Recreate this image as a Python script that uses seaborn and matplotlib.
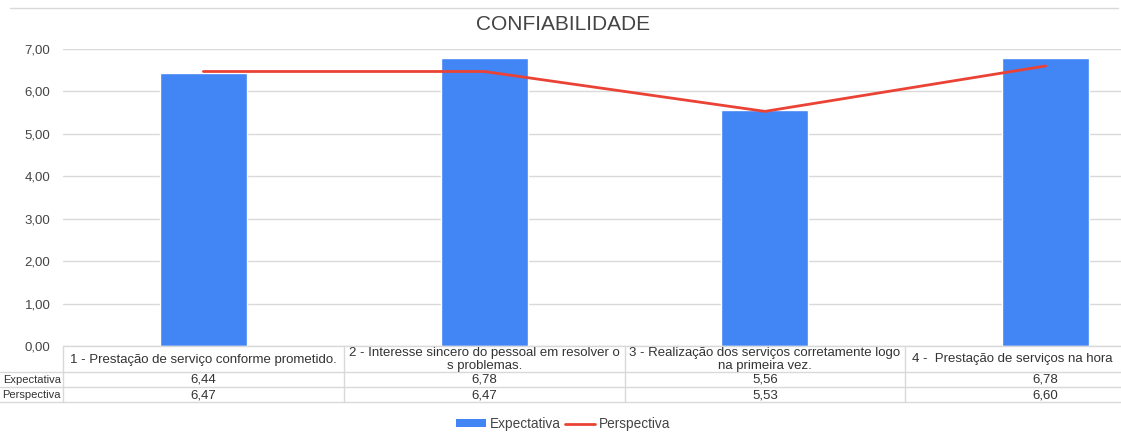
import matplotlib
matplotlib.use("Agg")
import matplotlib.pyplot as plt
import seaborn as sns
import numpy as np
import pandas as pd
from matplotlib.patches import Patch
from matplotlib.lines import Line2D
from matplotlib.ticker import FuncFormatter

categories = [
    "1 - Prestação de serviço conforme prometido.",
    "2 - Interesse sincero do pessoal em resolver o\ns problemas.",
    "3 - Realização dos serviços corretamente logo\nna primeira vez.",
    "4 -  Prestação de serviços na hora",
]
expectativa = [6.44, 6.78, 5.56, 6.78]
perspectiva = [6.47, 6.47, 5.53, 6.60]
series_names = ["Expectativa", "Perspectiva"]

BLUE = "#4285F4"
RED = "#EA4335"
GRID = "#D9D9D9"
TXT = "#444444"

sns.set_theme(style="white")
plt.rcParams["font.family"] = ["Liberation Sans", "DejaVu Sans"]

W, H = 1121, 437
fig = plt.figure(figsize=(W / 100, H / 100), dpi=100)
left_px, right_px, top_px, bot_px = 63, 1186, 49, 346
ax = fig.add_axes([left_px / W, 1 - bot_px / H, (right_px - left_px) / W, (bot_px - top_px) / H])

df = pd.DataFrame({"pos": np.arange(len(categories)), "exp": expectativa, "per": perspectiva})
sns.barplot(data=df, x="pos", y="exp", color=BLUE, width=0.31, saturation=1, ax=ax, zorder=2)
sns.lineplot(x=np.arange(len(categories)), y=perspectiva, color=RED, linewidth=2, ax=ax, zorder=3)

ax.set_xlim(-0.5, len(categories) - 0.5)
ax.set_ylim(0, 7)
ax.set_yticks(np.arange(0, 8, 1))
ax.yaxis.set_major_formatter(FuncFormatter(lambda v, p: f"{v:.2f}".replace(".", ",")))
ax.tick_params(axis="y", length=0, pad=9, labelsize=9.5, labelcolor=TXT)
ax.set_xticks([])
ax.set_xlabel("")
ax.set_ylabel("")
ax.grid(axis="y", color=GRID, linewidth=1, zorder=0)
for s in ax.spines.values():
    s.set_visible(False)

def fy(py):
    return (bot_px - py) / (bot_px - top_px)

trans = ax.get_xaxis_transform()
ax.plot([-0.5, 3.5], [fy(346)] * 2, transform=trans, color=GRID, lw=1, clip_on=False)
for py in (372, 387, 402):
    ax.plot([-0.5 - 63 / 281, 3.5], [fy(py)] * 2, transform=trans, color=GRID, lw=1, clip_on=False)
for xv in [-0.5, 0.5, 1.5, 2.5, 3.5]:
    ax.plot([xv, xv], [fy(346), fy(402)], transform=trans, color=GRID, lw=1, clip_on=False)

TFS = 9.5
for i, cat in enumerate(categories):
    if i == len(categories) - 1:
        ax.text(912 / W, 1 - 359 / H, cat, transform=fig.transFigure, ha="left", va="center",
                fontsize=TFS, color="#333333")
    else:
        ax.text(i, fy(359.5), cat, transform=trans, ha="center", va="center", fontsize=TFS,
                color="#333333", linespacing=1.1)
    ax.text(i, fy(380), f"{expectativa[i]:.2f}".replace(".", ","), transform=trans,
            ha="center", va="center", fontsize=TFS, color="#333333")
    ax.text(i, fy(395), f"{perspectiva[i]:.2f}".replace(".", ","), transform=trans,
            ha="center", va="center", fontsize=TFS, color="#333333")

fig.text(61 / W, 1 - 380 / H, series_names[0], ha="right", va="center", fontsize=8.0, color="#333333")
fig.text(61 / W, 1 - 395 / H, series_names[1], ha="right", va="center", fontsize=8.0, color="#333333")

fig.text(563 / W, 1 - 25 / H, "CONFIABILIDADE", ha="center", va="center", fontsize=15, color="#444444")
fig.add_artist(Line2D([10 / W, 1118 / W], [1 - 8 / H] * 2, color=GRID, lw=1))

handles = [Patch(facecolor=BLUE, edgecolor="none"), Line2D([0], [0], color=RED, lw=2)]
fig.legend(handles, series_names, loc="center", bbox_to_anchor=(563 / W, 1 - 424 / H), ncol=2,
           frameon=False, fontsize=9.8, handlelength=2.2, handleheight=0.5, handletextpad=0.3,
           columnspacing=0.3, labelcolor=TXT)

fig.savefig("out.png", dpi=100)
